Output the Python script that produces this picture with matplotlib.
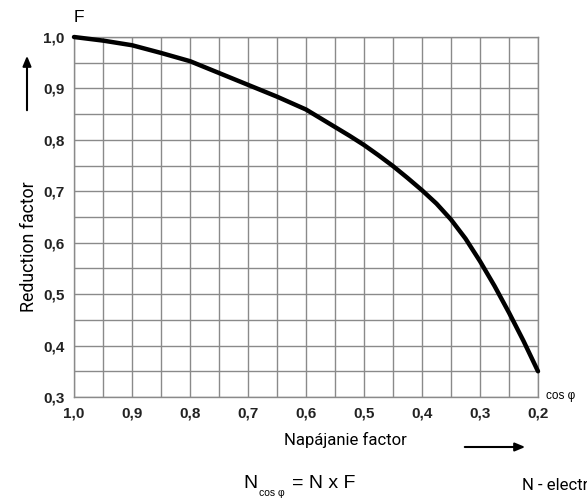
import matplotlib
matplotlib.use("Agg")
import matplotlib.pyplot as plt
from matplotlib.ticker import MultipleLocator, FuncFormatter
from matplotlib.patches import FancyArrowPatch

# Data
cos_phi = [1.0, 0.95, 0.9, 0.85, 0.8, 0.75, 0.7, 0.65, 0.6, 0.575, 0.55,
           0.525, 0.5, 0.475, 0.45, 0.425, 0.4, 0.375, 0.35, 0.325, 0.3,
           0.275, 0.25, 0.225, 0.2]
factor_F = [1.0, 0.993, 0.984, 0.969, 0.953, 0.930, 0.907, 0.884, 0.859,
            0.842, 0.825, 0.808, 0.790, 0.770, 0.749, 0.726, 0.702, 0.676,
            0.645, 0.608, 0.564, 0.516, 0.464, 0.409, 0.350]
x_ticks = [1.0, 0.9, 0.8, 0.7, 0.6, 0.5, 0.4, 0.3, 0.2]
y_ticks = [0.3, 0.4, 0.5, 0.6, 0.7, 0.8, 0.9, 1.0]

W, H = 587, 501
fig = plt.figure(figsize=(W / 100, H / 100), dpi=100)

def fx(px):
    return px / W

def fy(py):
    return 1 - py / H

ax = fig.add_axes([fx(74), fy(397), fx(538) - fx(74), fy(37) - fy(397)])
ax.set_xlim(1.0, 0.2)
ax.set_ylim(0.3, 1.0)

ax.xaxis.set_minor_locator(MultipleLocator(0.05))
ax.yaxis.set_minor_locator(MultipleLocator(0.05))
ax.set_xticks(x_ticks)
ax.set_yticks(y_ticks)
fmt = FuncFormatter(lambda v, p: f"{v:.1f}".replace(".", ","))
ax.xaxis.set_major_formatter(fmt)
ax.yaxis.set_major_formatter(fmt)

ax.grid(True, which="both", color="#8a8a8a", linewidth=1.0)
ax.set_axisbelow(True)
for s in ax.spines.values():
    s.set_color("#8a8a8a")
    s.set_linewidth(1.0)
ax.tick_params(which="both", length=0)
ax.tick_params(axis="x", pad=7)
ax.tick_params(axis="y", pad=7)
for lab in ax.get_xticklabels() + ax.get_yticklabels():
    lab.set_fontfamily("Liberation Sans")
    lab.set_fontsize(11)
    lab.set_color("#222222")
    lab.set_fontweight("bold")

ax.plot(cos_phi, factor_F, color="black", linewidth=3.2, solid_capstyle="round",
        solid_joinstyle="round", clip_on=False, zorder=5)

narrow = ["Roboto", "DejaVu Sans"]

fig.text(fx(74), fy(17), "F", fontsize=12.5, fontfamily="Liberation Sans",
         ha="left", va="center", color="black")
fig.text(fx(29), fy(247), "Reduction factor", rotation=90, fontsize=12.8,
         fontfamily=narrow, ha="center", va="center", color="black")
fig.text(fx(345), fy(440), "Napájanie factor", fontsize=12,
         fontfamily=narrow, ha="center", va="center", color="black")
fig.text(fx(546), fy(396), "cos φ", fontsize=8.5, fontfamily="Liberation Sans",
         ha="left", va="center", color="black")
fig.text(fx(522), fy(485), "N - electr", fontsize=12, fontfamily=narrow,
         ha="left", va="center", color="black")

fig.text(fx(243), fy(484), "N", fontsize=14, fontfamily="Liberation Sans",
         ha="left", va="center", color="black")
fig.text(fx(259), fy(493), "cos φ", fontsize=7.5, fontfamily="Liberation Sans",
         ha="left", va="center", color="black")
fig.text(fx(292), fy(484), "= N x F", fontsize=14, fontfamily="Liberation Sans",
         ha="left", va="center", color="black")

up = FancyArrowPatch((fx(27), fy(113)), (fx(27), fy(53)), transform=fig.transFigure,
                     arrowstyle="-|>,head_length=6,head_width=2.5", color="black",
                     linewidth=1.5, mutation_scale=1)
fig.add_artist(up)
right = FancyArrowPatch((fx(462), fy(447)), (fx(528), fy(447)), transform=fig.transFigure,
                        arrowstyle="-|>,head_length=6,head_width=2.5", color="black",
                        linewidth=1.5, mutation_scale=1)
fig.add_artist(right)

fig.savefig("out.png", dpi=100)
